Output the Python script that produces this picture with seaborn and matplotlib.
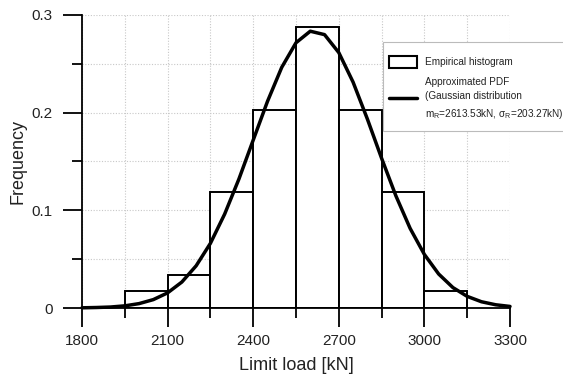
import numpy as np
import matplotlib
matplotlib.use("Agg")
import matplotlib.pyplot as plt
import seaborn as sns
from matplotlib.patches import Patch, Rectangle
from matplotlib.lines import Line2D
from matplotlib.ticker import MultipleLocator

# ── data ────────────────────────────────────────────────────────────
bin_edges = [1950, 2100, 2250, 2400, 2550, 2700, 2850, 3000, 3150]
bin_freq = [0.017, 0.034, 0.119, 0.203, 0.288, 0.203, 0.119, 0.017]

pdf_load = [1800, 1850, 1900, 1950, 2000, 2050, 2100, 2150, 2200, 2250,
            2300, 2350, 2400, 2450, 2500, 2550, 2600, 2650, 2700, 2750,
            2800, 2850, 2900, 2950, 3000, 3050, 3100, 3150, 3200, 3250, 3300]
pdf_freq = [0.0002, 0.0005, 0.0010, 0.0022, 0.0045, 0.0086, 0.0155, 0.0266,
            0.0432, 0.0662, 0.0962, 0.1321, 0.1719, 0.2115, 0.2464, 0.2716,
            0.2834, 0.2799, 0.2615, 0.2313, 0.1936, 0.1533, 0.1149, 0.0815,
            0.0548, 0.0348, 0.0209, 0.0119, 0.0064, 0.0033, 0.0016]

x_ticks = [1800, 2100, 2400, 2700, 3000, 3300]
y_ticks = [0, 0.1, 0.2, 0.3]
y_tick_labels = ["0", "0.1", "0.2", "0.3"]

hist_label = "Empirical histogram"
pdf_label = ("Approximated PDF\n(Gaussian distribution\n"
             "m$_R$=2613.53kN, σ$_R$=203.27kN)")

# ── style ───────────────────────────────────────────────────────────
sns.set_style("ticks")
plt.rcParams["font.family"] = ["Liberation Sans", "DejaVu Sans"]
plt.rcParams["mathtext.default"] = "regular"

W, H = 563, 376
fig = plt.figure(figsize=(W / 100, H / 100), dpi=100)
ax = fig.add_axes([82 / W, 1 - 308 / H, 428 / W, 293 / H])

centers = [(a + b) / 2 for a, b in zip(bin_edges[:-1], bin_edges[1:])]
sns.histplot(x=centers, weights=bin_freq, bins=bin_edges, stat="count",
             color="white", edgecolor="black", linewidth=1.4, alpha=1,
             ax=ax, zorder=2)

sns.lineplot(x=pdf_load, y=pdf_freq, color="black", linewidth=2.5,
             ax=ax, zorder=3, clip_on=False, solid_joinstyle="round",
             solid_capstyle="round")

ax.set_xlim(1800, 3300)
ax.set_ylim(0, 0.3)
ax.set_xticks(x_ticks)
ax.set_yticks(y_ticks)
ax.set_yticklabels(y_tick_labels)
ax.xaxis.set_minor_locator(MultipleLocator(150))
ax.yaxis.set_minor_locator(MultipleLocator(0.05))

ax.set_axisbelow(True)
ax.grid(which="both", color="#c8c8c8", linestyle=(0, (1, 1.5)), linewidth=0.8)

for side in ["top", "right"]:
    ax.spines[side].set_visible(False)
for side in ["left", "bottom"]:
    ax.spines[side].set_linewidth(1.3)
    ax.spines[side].set_color("black")

ax.tick_params(which="major", length=14, width=1.3, labelsize=11,
               colors="black", labelcolor="#222222")
ax.tick_params(which="minor", length=7, width=1.3, colors="black")
ax.tick_params(axis="x", which="major", pad=5)
ax.tick_params(axis="y", which="major", pad=7)

ax.set_xlabel("Limit load [kN]", fontsize=13, labelpad=6, color="#222222")
ax.set_ylabel("Frequency", fontsize=13, labelpad=4, color="#222222")

# legend box (runs off the right edge, as in the reference)
fig.patches.append(Rectangle((383 / W, 1 - 131 / H), 220 / W, 89 / H,
                             transform=fig.transFigure, facecolor="white",
                             edgecolor="#bbbbbb", linewidth=0.8, zorder=4))

handles = [Patch(facecolor="white", edgecolor="black", linewidth=1.5),
           Line2D([], [], color="black", linewidth=2.5)]
leg = fig.legend(handles, [hist_label, pdf_label], loc="upper left",
                 bbox_to_anchor=(389 / W, 1 - 56 / H),
                 bbox_transform=fig.transFigure, fontsize=7.2,
                 frameon=False, handlelength=2.8, handleheight=1.4,
                 handletextpad=0.8, borderpad=0, borderaxespad=0,
                 labelspacing=0.9)
leg.set_zorder(5)
for t in leg.get_texts():
    t.set_linespacing(1.6)
    t.set_color("#222222")

fig.savefig("out.png", dpi=100)
